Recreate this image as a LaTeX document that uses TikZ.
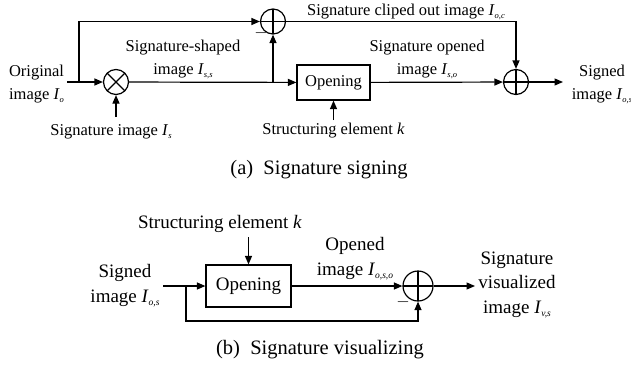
\documentclass[tikz,border=0pt]{standalone}
\usepackage{fontspec}
\setmainfont{Liberation Serif}
\usetikzlibrary{arrows.meta}
\newcommand\Isub[2]{\textit{#1}\raisebox{-0.4ex}{\fontsize{8.5}{8.5}\selectfont\textit{#2}}}
\newcommand\Isubb[2]{\textit{#1}\raisebox{-0.4ex}{\fontsize{9.5}{9.5}\selectfont\textit{#2}}}
\tikzset{
  arr/.style={-{Triangle[length=8.5pt,width=7pt]}},
  sumnode/.style={circle,draw,minimum size=#1,inner sep=0pt,
    path picture={\draw (path picture bounding box.north)--(path picture bounding box.south)
      (path picture bounding box.west)--(path picture bounding box.east);}},
  mulnode/.style={circle,draw,minimum size=25pt,inner sep=0pt,
    path picture={\draw (path picture bounding box.north west)--(path picture bounding box.south east)
      (path picture bounding box.north east)--(path picture bounding box.south west);}},
  blockbox/.style={draw,inner sep=0pt,align=center},
  lbltop/.style={align=center,inner sep=0pt,font=\fontsize{16.5}{23}\selectfont},
  lblbot/.style={align=center,inner sep=0pt,font=\fontsize{19}{24.5}\selectfont},
  capt/.style={inner sep=0pt,font=\fontsize{20.5}{24}\selectfont},
}
\begin{document}
\begin{tikzpicture}[x=1pt,y=-1pt,line width=1.2pt]
\useasboundingbox (0,0) rectangle (631,367);
% ---------- (a) ----------
\node[mulnode] (mul) at (116,82) {};
\node[sumnode=25pt] (sum1) at (273,21.5) {};
\node[sumnode=25pt] (sum2) at (516,82) {};
\node[blockbox,minimum width=73pt,minimum height=35pt,font=\fontsize{16.5}{19}\selectfont] (open1) at (333.5,82.5) {Opening};
\coordinate (inO) at (67,82);
\coordinate (br1) at (79,82);
\coordinate (br2) at (273,82);
\coordinate (sigIn) at (116,117);
\coordinate (k1) at (333.5,120);
\coordinate (out1) at (563,82);
\draw[arr] (inO) -- (mul);
\draw[arr] (br1) |- (sum1);
\draw[arr] (sigIn) -- (mul);
\draw[arr] (mul) -- (open1);
\draw[arr] (br2) -- (sum1);
\draw[arr] (sum1) -| (sum2);
\draw[arr] (k1) -- (open1);
\draw[arr] (open1) -- (sum2);
\draw[arr] (sum2) -- (out1);
\node[lbltop] (tOrig) at (36.5,84) {Original\\image \Isub{I}{o}};
\node[lbltop] (tSigIm) at (111,132) {Signature image \Isub{I}{s}};
\node[lbltop] (tShaped) at (183,59) {Signature-shaped\\image \Isub{I}{s,s}};
\node[lbltop] (tMinus1) at (261,33) {$-$};
\node[lbltop] (tClip) at (406,12) {Signature cliped out image \Isub{I}{o,c}};
\node[lbltop] (tOpened) at (427,59) {Signature opened\\image \Isub{I}{s,o}};
\node[lbltop] (tStruct1) at (333.5,131) {Structuring element \textit{k}};
\node[lbltop] (tSigned1) at (602,84) {Signed\\image \Isub{I}{o,s}};
\node[capt] (capA) at (319,170) {(a)\ \ Signature signing};
% ---------- (b) ----------
\node[blockbox,minimum width=85pt,minimum height=42pt,font=\fontsize{19}{22}\selectfont] (open2) at (248.5,286) {Opening};
\node[sumnode=30pt] (sum3) at (418,286) {};
\coordinate (inS) at (163,286);
\coordinate (br3) at (186,286);
\coordinate (k2) at (248.5,237);
\coordinate (out2) at (475,286);
\draw[arr] (inS) -- (open2);
\draw[arr] (br3) -- ++(0,35) -| (sum3);
\draw[arr] (k2) -- (open2);
\draw[arr] (open2) -- (sum3);
\draw[arr] (sum3) -- (out2);
\node[lblbot] (tStruct2) at (220,224) {Structuring element \textit{k}};
\node[lblbot] (tOpened2) at (355,259) {Opened\\image \Isubb{I}{o,s,o}};
\node[lblbot] (tMinus2) at (403,302) {$-$};
\node[lblbot] (tSigned2) at (125,286) {Signed\\image \Isubb{I}{o,s}};
\node[lblbot] (tVis) at (517,285) {Signature\\visualized\\image \Isubb{I}{v,s}};
\node[capt] (capB) at (320,350) {(b)\ \ Signature visualizing};
\end{tikzpicture}
\end{document}
